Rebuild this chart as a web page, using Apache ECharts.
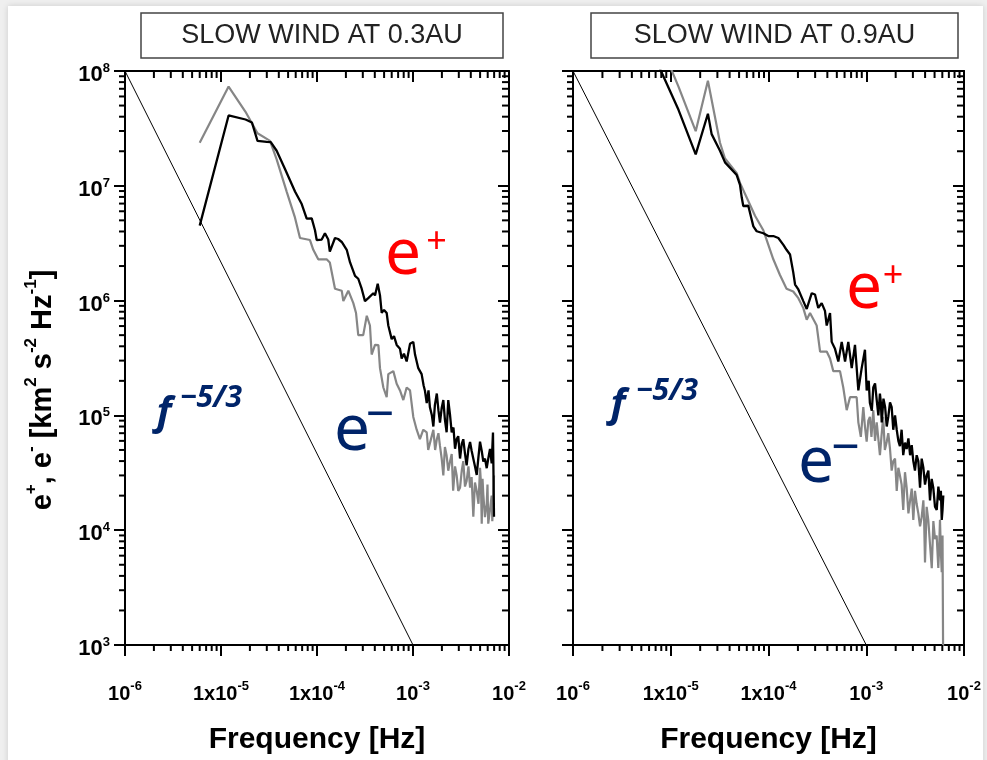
<!DOCTYPE html>
<html>
<head>
<meta charset="utf-8">
<script src="https://cdn.jsdelivr.net/npm/echarts@6/dist/echarts.min.js"></script>
<style>
html,body{margin:0;padding:0;background:#efefef;}
#chart{width:987px;height:760px;}
</style>
</head>
<body>
<div id="chart"></div>
<script>
// ---- Panel titles and tick labels ----
const panelTitles = ['SLOW WIND AT 0.3AU', 'SLOW WIND AT 0.9AU'];
const xTickExps = [-6, -5, -4, -3, -2];
const xTickBases = ['10', '1x10', '1x10', '10', '10'];
const yTickExps = [3, 4, 5, 6, 7, 8];
const minorMultipliers = [2, 3, 4, 5, 6, 7, 8, 9];

// ---- Reference power law f^-5/3 ----
const slopeFreq = [1e-6, 1e-3];
const slopeVal = [1e8, 1e3];

// ---- Slow wind at 0.3 AU: e+ (black) ----
const left03PlusFreq = [
  6.0e-6, 1.2e-5, 1.8e-5, 2.1e-5, 2.4e-5, 3.0e-5, 3.3e-5, 3.8e-5, 4.64e-5, 5.9e-5,
  6.93e-5, 7.81e-5, 8.81e-5, 9.53e-5, 9.93e-5, 1.12e-4, 1.21e-4, 1.31e-4, 1.36e-4, 1.54e-4,
  1.66e-4, 1.81e-4, 2.04e-4, 2.21e-4, 2.49e-4, 2.69e-4, 2.92e-4, 3.16e-4, 3.42e-4, 3.86e-4,
  4.02e-4, 4.29e-4, 4.53e-4, 4.72e-4, 4.99e-4, 5.32e-4, 5.53e-4, 6.0e-4, 6.34e-4, 6.76e-4,
  7.32e-4, 7.62e-4, 8.05e-4, 8.59e-4, 9.31e-4, 1.007e-3, 1.05e-3, 1.135e-3, 1.23e-3, 1.29e-3,
  1.33e-3, 1.39e-3, 1.45e-3, 1.50e-3, 1.57e-3, 1.63e-3, 1.69e-3, 1.77e-3, 1.84e-3, 1.91e-3,
  1.99e-3, 2.07e-3, 2.15e-3, 2.24e-3, 2.33e-3, 2.43e-3, 2.53e-3, 2.64e-3, 2.74e-3, 2.85e-3,
  2.96e-3, 3.09e-3, 3.22e-3, 3.34e-3, 3.48e-3, 3.62e-3, 3.78e-3, 3.93e-3, 4.08e-3, 4.25e-3,
  4.42e-3, 4.61e-3, 4.81e-3, 4.99e-3, 5.20e-3, 5.40e-3, 5.62e-3, 5.86e-3, 6.08e-3, 6.34e-3,
  6.60e-3, 6.81e-3, 6.98e-3
];
const left03PlusVal = [
  4.5e6, 4.1e7, 3.78e7, 3.56e7, 2.46e7, 2.41e7, 2.4e7, 2.02e7, 1.40e7, 8.93e6,
  6.93e6, 5.18e6, 5.2e6, 4.10e6, 3.37e6, 3.4e6, 3.86e6, 3.4e6, 2.67e6, 3.51e6,
  3.44e6, 3.24e6, 2.77e6, 2.15e6, 1.64e6, 1.55e6, 1.27e6, 9.9e5, 1.05e6, 1.16e6,
  1.11e6, 1.40e6, 1.11e6, 7.82e5, 8.30e5, 7.8e5, 6.07e5, 4.62e5, 4.90e5, 4.11e5,
  3.80e5, 3.13e5, 3.45e5, 2.95e5, 4.20e5, 4.37e5, 3.39e5, 2.58e5, 2.29e5, 1.82e5,
  1.65e5, 1.28e5, 1.65e5, 1.18e5, 1.01e5, 8.0e4, 1.23e5, 1.55e5, 1.11e5, 8.66e4,
  1.16e5, 1.36e5, 9.2e4, 7.13e4, 1.36e5, 1.01e5, 7.1e4, 7.85e4, 5.12e4, 6.22e4,
  6.59e4, 4.21e4, 5.64e4, 6.2e4, 4.65e4, 3.67e4, 5.1e4, 5.86e4, 4.92e4, 4.2e4,
  3.61e4, 3.03e4, 4.38e4, 5.9e4, 4.9e4, 3.97e4, 4.2e4, 3.47e4, 4.2e4, 5.1e4,
  3.82e4, 7.1e4, 1.31e4
];

// ---- Slow wind at 0.3 AU: e- (grey) ----
const left03MinusFreq = [
  6.0e-6, 1.2e-5, 1.8e-5, 2.4e-5, 3.0e-5, 3.24e-5, 3.8e-5, 4.83e-5, 5.9e-5, 6.65e-5,
  7.5e-5, 8.45e-5, 9.15e-5, 1.03e-4, 1.26e-4, 1.36e-4, 1.54e-4, 1.81e-4, 1.88e-4, 2.12e-4,
  2.39e-4, 2.55e-4, 2.69e-4, 3.03e-4, 3.30e-4, 3.56e-4, 3.71e-4, 4.02e-4, 4.36e-4, 4.53e-4,
  4.91e-4, 5.32e-4, 5.53e-4, 6.24e-4, 6.76e-4, 7.32e-4, 7.93e-4, 8.59e-4, 9.31e-4, 1.007e-3,
  1.09e-3, 1.18e-3, 1.28e-3,
  1.39e-3, 1.44e-3, 1.50e-3, 1.56e-3, 1.63e-3, 1.70e-3, 1.77e-3, 1.84e-3, 1.91e-3, 1.99e-3,
  2.07e-3, 2.15e-3, 2.24e-3, 2.33e-3, 2.43e-3, 2.53e-3, 2.62e-3, 2.74e-3, 2.85e-3, 2.96e-3,
  3.09e-3, 3.22e-3, 3.34e-3, 3.48e-3, 3.62e-3, 3.78e-3, 3.93e-3, 4.08e-3, 4.25e-3, 4.42e-3,
  4.61e-3, 4.81e-3, 4.99e-3, 5.10e-3, 5.20e-3, 5.30e-3, 5.40e-3, 5.62e-3, 5.86e-3, 5.97e-3,
  6.08e-3, 6.34e-3, 6.60e-3, 6.70e-3, 6.81e-3, 6.90e-3, 6.98e-3
];
const left03MinusVal = [
  2.37e7, 7.32e7, 4.41e7, 2.87e7, 2.56e7, 2.46e7, 1.70e7, 8.9e6, 5.28e6, 3.51e6,
  3.44e6, 3.37e6, 2.77e6, 2.29e6, 2.29e6, 2.15e6, 1.27e6, 1.22e6, 9.9e5, 1.22e6,
  9.5e5, 7.8e5, 5.0e5, 5.0e5, 7.38e5, 6.07e5, 3.39e5, 4.11e5, 4.1e5, 2.58e5,
  1.75e5, 1.44e5, 2.29e5, 2.43e5, 1.89e5, 1.65e5, 1.36e5, 1.75e5, 1.65e5, 9.7e4,
  7.55e4, 6.22e4, 7.5e4,
  7.1e4, 5.0e4, 4.83e4, 6.5e4, 7.5e4, 5.0e4, 6.2e4, 7.0e4, 5.42e4, 4.2e4,
  3.0e4, 5.3e4, 4.47e4, 3.3e4, 3.97e4, 4.6e4, 2.21e4, 3.6e4, 3.0e4, 2.2e4,
  2.35e4, 3.3e4, 4.0e4, 2.4e4, 2.69e4, 3.6e4, 2.35e4, 2.9e4, 1.31e4, 2.6e4,
  2.2e4, 1.7e4, 3.5e4, 2.6e4, 1.14e4, 2.8e4, 2.05e4, 1.3e4, 1.69e4, 2.5e4,
  1.14e4, 1.5e4, 2.0e4, 1.2e4, 1.59e4, 2.3e4, 3.0e4
];

// ---- Slow wind at 0.9 AU: e+ (black) ----
const right09PlusFreq = [
  6.0e-6, 1.2e-5, 1.8e-5, 2.4e-5, 2.62e-5, 3.19e-5, 3.59e-5, 4.73e-5, 5.11e-5, 5.32e-5,
  5.52e-5, 6.21e-5, 7.0e-5, 7.57e-5, 8.85e-5, 9.95e-5, 1.12e-4, 1.26e-4, 1.42e-4, 1.53e-4,
  1.66e-4, 1.79e-4, 1.87e-4, 2.02e-4, 2.27e-4, 2.46e-4, 2.77e-4, 2.99e-4, 3.23e-4, 3.50e-4,
  3.78e-4, 3.94e-4, 4.26e-4, 4.43e-4, 4.79e-4, 5.18e-4, 5.61e-4, 6.07e-4, 6.55e-4, 7.10e-4,
  7.67e-4,
  8.30e-4, 8.98e-4, 9.70e-4, 1.01e-3, 1.06e-3, 1.09e-3, 1.14e-3, 1.18e-3, 1.23e-3, 1.28e-3,
  1.33e-3, 1.38e-3, 1.41e-3, 1.44e-3, 1.50e-3, 1.56e-3, 1.62e-3, 1.68e-3, 1.75e-3, 1.82e-3,
  1.89e-3, 1.97e-3, 2.05e-3, 2.13e-3, 2.21e-3, 2.30e-3, 2.39e-3, 2.49e-3, 2.59e-3, 2.70e-3,
  2.81e-3, 2.92e-3, 3.03e-3, 3.15e-3, 3.28e-3, 3.41e-3, 3.55e-3, 3.69e-3, 3.84e-3, 3.99e-3,
  4.15e-3, 4.32e-3, 4.49e-3, 4.67e-3, 4.85e-3, 5.05e-3, 5.26e-3, 5.47e-3, 5.68e-3, 5.80e-3,
  5.92e-3, 6.03e-3, 6.14e-3
];
const right09PlusVal = [
  1.7e8, 4.59e7, 1.88e7, 4.24e7, 2.82e7, 2.02e7, 1.60e7, 1.24e7, 1.02e7, 7.94e6,
  6.67e6, 6.7e6, 4.43e6, 4.02e6, 3.86e6, 3.65e6, 3.65e6, 3.51e6, 3.06e6, 2.77e6,
  2.52e6, 1.77e6, 1.38e6, 1.25e6, 9.9e5, 8.46e5, 1.16e6, 1.13e6, 8.63e5, 9.5e5,
  8.13e5, 6.07e5, 7.8e5, 4.37e5, 3.8e5, 2.95e5, 4.37e5, 2.95e5, 4.37e5, 2.58e5,
  4.11e5,
  1.65e5, 2.58e5, 3.73e5, 1.65e5, 2.0e5, 1.28e5, 1.1e5, 1.75e5, 1.9e5, 1.36e5,
  1.0e5, 1.55e5, 1.3e5, 8.7e4, 1.4e5, 1.18e5, 8.0e4, 9.7e4, 1.3e5, 1.18e5,
  7.5e4, 1.0e5, 7.5e4, 6.0e4, 5.4e4, 7.5e4, 4.5e4, 5.8e4, 5.1e4, 6.3e4,
  4.5e4, 5.5e4, 4.0e4, 3.3e4, 4.5e4, 4.0e4, 2.35e4, 4.2e4, 3.5e4, 2.5e4,
  3.0e4, 3.3e4, 1.82e4, 2.8e4, 2.35e4, 1.6e4, 1.50e4, 2.4e4, 1.82e4, 2.2e4,
  1.23e4, 1.5e4, 2.01e4
];

// ---- Slow wind at 0.9 AU: e- (grey) ----
const right09MinusFreq = [
  6.0e-6, 1.2e-5, 1.8e-5, 2.4e-5, 3.19e-5, 3.59e-5, 4.73e-5, 5.11e-5, 5.98e-5, 7.28e-5,
  8.85e-5, 9.59e-5, 1.12e-4, 1.31e-4, 1.53e-4, 1.79e-4, 2.02e-4, 2.27e-4, 2.46e-4, 2.66e-4,
  3.11e-4, 3.37e-4, 3.94e-4, 4.26e-4, 4.60e-4, 5.39e-4, 5.82e-4, 6.31e-4, 6.82e-4, 7.98e-4,
  8.30e-4, 8.8e-4, 9.33e-4, 9.7e-4, 1.01e-3, 1.05e-3, 1.09e-3, 1.13e-3, 1.18e-3, 1.23e-3,
  1.28e-3, 1.33e-3, 1.38e-3, 1.43e-3, 1.49e-3, 1.55e-3, 1.62e-3, 1.68e-3, 1.75e-3, 1.82e-3,
  1.89e-3, 1.97e-3, 2.05e-3, 2.13e-3, 2.21e-3, 2.30e-3, 2.39e-3, 2.49e-3, 2.59e-3, 2.70e-3,
  2.81e-3, 2.92e-3, 3.03e-3, 3.15e-3, 3.28e-3, 3.41e-3, 3.55e-3, 3.69e-3, 3.84e-3, 3.91e-3,
  3.99e-3, 4.15e-3, 4.31e-3, 4.49e-3, 4.68e-3, 4.86e-3, 5.05e-3, 5.25e-3, 5.46e-3, 5.57e-3,
  5.68e-3, 5.80e-3, 5.92e-3, 6.03e-3, 6.14e-3
];
const right09MinusVal = [
  3.0e8, 7.3e7, 2.99e7, 8.23e7, 2.37e7, 1.73e7, 1.29e7, 1.06e7, 7.9e6, 5.48e6,
  4.1e6, 3.37e6, 2.29e6, 1.67e6, 1.27e6, 1.20e6, 1.05e6, 8.6e5, 6.82e5, 7.8e5,
  6.07e5, 3.59e5, 3.6e5, 3.13e5, 2.43e5, 2.43e5, 1.75e5, 1.11e5, 1.44e5, 1.44e5,
  8.7e4, 6.5e4, 1.18e5, 8.0e4, 5.9e4, 9.0e4, 9.7e4, 6.5e4, 1.11e5, 6.0e4,
  8.7e4, 9.0e4, 4.5e4, 6.5e4, 9.7e4, 5.0e4, 5.9e4, 7.0e4, 5.1e4, 3.3e4,
  4.0e4, 4.2e4, 2.2e4, 3.5e4, 3.0e4, 2.5e4, 1.5e4, 3.2e4, 2.35e4, 1.4e4,
  1.82e4, 2.3e4, 1.23e4, 2.2e4, 1.69e4, 1.4e4, 1.08e4, 1.3e4, 1.82e4, 1.2e4,
  5.24e3, 1.6e4, 1.23e4, 7.5e3, 4.66e3, 1.2e4, 8.36e3, 9.0e3, 4.7e3, 7.0e3,
  1.23e4, 6.5e3, 4.31e3, 9.0e3, 4.0e2
];

// ---- Layout / style ----
const X_MIN = 1e-6, X_MAX = 1e-2, Y_MIN = 1e3, Y_MAX = 1e8;
const AXIS_FONT = '"Liberation Sans", Arial, Helvetica, sans-serif';
const NOTE_FONT = '"Noto Sans", "Open Sans", sans-serif';
const NAVY = '#002469';
const grids = [
  { left: 125, top: 71, width: 384, height: 591 },
  { left: 573, top: 71, width: 391, height: 591 }
];

const zip = (fs, vs) => fs.map((f, i) => [f, vs[i]]);

function supRich(size, supSize) {
  return {
    b: { fontFamily: AXIS_FONT, fontWeight: 'bold', fontSize: size, color: '#000', lineHeight: 24, verticalAlign: 'bottom' },
    s: { fontFamily: AXIS_FONT, fontWeight: 'bold', fontSize: supSize, color: '#000', lineHeight: 13, verticalAlign: 'top' }
  };
}

function xLabel(v) {
  const e = Math.round(Math.log10(v));
  const i = xTickExps.indexOf(e);
  return i < 0 ? '' : '{b|' + xTickBases[i] + '}{s|' + e + '}';
}
function yLabel(v) {
  const e = Math.round(Math.log10(v));
  return yTickExps.indexOf(e) < 0 ? '' : '{b|10}{s|' + e + '}';
}

const axisLine = { show: true, lineStyle: { color: '#000', width: 2 } };

function xAxesFor(g) {
  return [
    {
      type: 'log', logBase: 10, gridIndex: g, min: X_MIN, max: X_MAX, position: 'bottom',
      axisLine, splitLine: { show: false }, minorTick: { show: false },
      axisTick: { show: true, inside: false, length: 11, lineStyle: { color: '#000', width: 2 } },
      axisLabel: { show: true, margin: 35, formatter: xLabel, rich: supRich(20, 13) },
      name: 'Frequency [Hz]', nameLocation: 'middle', nameGap: 80,
      nameTextStyle: { fontFamily: AXIS_FONT, fontWeight: 'bold', fontSize: 30, color: '#000' }
    },
    {
      type: 'log', logBase: 10, gridIndex: g, min: X_MIN, max: X_MAX, position: 'top',
      axisLine, splitLine: { show: false }, minorTick: { show: false },
      axisTick: { show: true, inside: true, length: 11, lineStyle: { color: '#000', width: 2 } },
      axisLabel: { show: false }
    }
  ];
}
function yAxesFor(g, showLabels) {
  return [
    {
      type: 'log', logBase: 10, gridIndex: g, min: Y_MIN, max: Y_MAX, position: 'left',
      axisLine, splitLine: { show: false }, minorTick: { show: false },
      axisTick: { show: true, inside: false, length: 11, lineStyle: { color: '#000', width: 2 } },
      axisLabel: { show: showLabels, margin: 15, padding: [6, 0, 0, 0], formatter: yLabel, rich: supRich(22, 13) }
    },
    {
      type: 'log', logBase: 10, gridIndex: g, min: Y_MIN, max: Y_MAX, position: 'right',
      axisLine, splitLine: { show: false }, minorTick: { show: false },
      axisTick: { show: true, inside: true, length: 11, lineStyle: { color: '#000', width: 2 } },
      axisLabel: { show: false }
    }
  ];
}

// Minor log ticks (2..9 in every decade) on all four sides of a panel
const minorTickData = [];
for (let e = -6; e < -2; e++) {
  minorMultipliers.forEach(m => minorTickData.push([m * Math.pow(10, e), 1e5, 0]));
}
for (let e = 3; e < 8; e++) {
  minorMultipliers.forEach(m => minorTickData.push([1e-4, m * Math.pow(10, e), 1]));
}
function renderMinorTick(params, api) {
  const kind = api.value(2);
  const st = { stroke: '#000', lineWidth: 2 };
  if (kind === 0) {
    const v = api.value(0);
    const b = api.coord([v, Y_MIN]);
    const t = api.coord([v, Y_MAX]);
    return { type: 'group', children: [
      { type: 'line', shape: { x1: b[0], y1: b[1], x2: b[0], y2: b[1] + 6 }, style: st },
      { type: 'line', shape: { x1: t[0], y1: t[1], x2: t[0], y2: t[1] + 7 }, style: st }
    ] };
  }
  const v = api.value(1);
  const l = api.coord([X_MIN, v]);
  const r = api.coord([X_MAX, v]);
  return { type: 'group', children: [
    { type: 'line', shape: { x1: l[0], y1: l[1], x2: l[0] - 6, y2: l[1] }, style: st },
    { type: 'line', shape: { x1: r[0], y1: r[1], x2: r[0] - 7, y2: r[1] }, style: st }
  ] };
}

function panelSeries(g, plusF, plusV, minusF, minusV) {
  const xi = g * 2, yi = g * 2;
  const base = { type: 'line', xAxisIndex: xi, yAxisIndex: yi, symbol: 'none', showSymbol: false, silent: true, clip: true };
  return [
    Object.assign({}, base, { data: zip(slopeFreq, slopeVal), lineStyle: { color: '#000', width: 1 }, z: 2 }),
    Object.assign({}, base, { name: 'e-', data: zip(minusF, minusV), lineStyle: { color: '#868686', width: 2.2 }, z: 3 }),
    Object.assign({}, base, { name: 'e+', data: zip(plusF, plusV), lineStyle: { color: '#000', width: 2.3 }, z: 4 }),
    { type: 'custom', xAxisIndex: xi, yAxisIndex: yi, data: minorTickData, renderItem: renderMinorTick, clip: false, silent: true, z: 5 }
  ];
}

// Panel title boxes
function titleBox(x, w, text) {
  return [
    { type: 'rect', z: 10, shape: { x: x, y: 13, width: w, height: 45 }, style: { fill: '#fff', stroke: '#444', lineWidth: 1.5 } },
    { type: 'text', z: 11, x: x + w / 2, y: 36, style: { text: text, fill: '#222', font: '27px ' + AXIS_FONT, align: 'center', verticalAlign: 'middle' } }
  ];
}
function note(x, y, text, size, color, extra) {
  return { type: 'text', z: 20, x: x, y: y, style: Object.assign({ text: text, fill: color, fontFamily: NOTE_FONT, fontSize: size, align: 'center', verticalAlign: 'middle' }, extra || {}) };
}
function slopeNote(fx, fy, sx, sy) {
  const it = { fontFamily: '"Open Sans", "Noto Sans", sans-serif', fontStyle: 'italic', fontWeight: 'bold' };
  return [
    note(fx, fy, 'f', 40, NAVY, it),
    note(sx, sy, '\u22125/3', 30, NAVY, it)
  ];
}

const graphic = [
  { type: 'rect', z: -10, silent: true, shape: { x: 8, y: 6, width: 975, height: 760 }, style: { fill: '#fff', shadowBlur: 6, shadowColor: 'rgba(0,0,0,0.15)' } },
  ...titleBox(141, 362, panelTitles[0]),
  ...titleBox(591, 367, panelTitles[1]),
  {
    type: 'text', z: 20, x: 40, y: 390, rotation: Math.PI / 2,
    style: {
      text: '{b|e}{s|+}{b|, e}{s|-}{b| [km}{s|2}{b| s}{s|-2}{b| Hz}{s|-1}{b|]}',
      align: 'center', verticalAlign: 'middle', fill: '#000',
      rich: {
        b: { fontFamily: AXIS_FONT, fontWeight: 'bold', fontSize: 29, fill: '#000', lineHeight: 34, verticalAlign: 'bottom' },
        s: { fontFamily: AXIS_FONT, fontWeight: 'bold', fontSize: 17, fill: '#000', lineHeight: 18, verticalAlign: 'top' }
      }
    }
  },
  // annotations, 0.3 AU panel
  note(403, 256, 'e', 64, '#ff0000'),
  note(436.5, 243, '+', 36, '#ff0000'),
  note(352, 432, 'e', 64, NAVY),
  note(380, 417, '\u2212', 50, NAVY),
  ...slopeNote(164, 414, 211, 398),
  // annotations, 0.9 AU panel
  note(864, 290, 'e', 64, '#ff0000'),
  note(893, 277, '+', 36, '#ff0000'),
  note(816, 464, 'e', 64, NAVY),
  note(845.5, 450, '\u2212', 50, NAVY),
  ...slopeNote(618, 406, 667, 391)
];

const chart = echarts.init(document.getElementById('chart'), null, { renderer: 'canvas' });
chart.setOption({
  animation: false,
  backgroundColor: 'transparent',
  grid: grids.map(g => Object.assign({ containLabel: false }, g)),
  xAxis: [...xAxesFor(0), ...xAxesFor(1)],
  yAxis: [...yAxesFor(0, true), ...yAxesFor(1, false)],
  series: [
    ...panelSeries(0, left03PlusFreq, left03PlusVal, left03MinusFreq, left03MinusVal),
    ...panelSeries(1, right09PlusFreq, right09PlusVal, right09MinusFreq, right09MinusVal)
  ],
  graphic: graphic
});
</script>
</body>
</html>
